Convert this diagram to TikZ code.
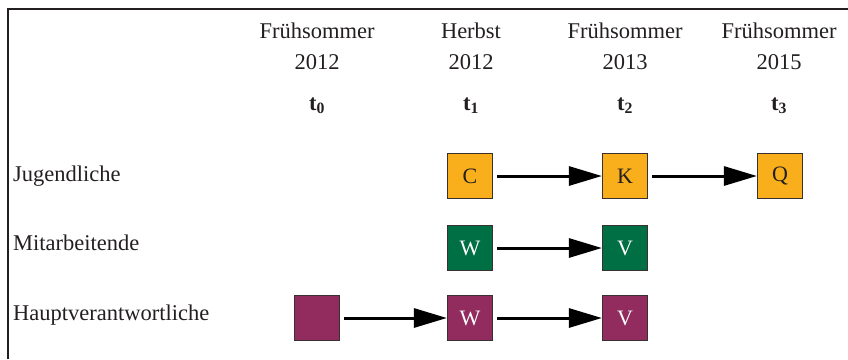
\documentclass[tikz,border=0pt]{standalone}
\usepackage{fontspec}
\setmainfont{Liberation Serif}
\usetikzlibrary{arrows.meta}
\definecolor{txt}{HTML}{231F20}
\definecolor{orng}{HTML}{F9AF1C}
\definecolor{grn}{HTML}{006F44}
\definecolor{purp}{HTML}{922B5E}
\definecolor{edge}{HTML}{3A3030}
\begin{document}
\begin{tikzpicture}[x=1pt,y=-1pt,
  hdr/.style={font=\fontsize{22.5}{26}\selectfont, text=txt, anchor=base},
  rowlbl/.style={font=\fontsize{22.5}{26}\selectfont, text=txt, anchor=base west, inner sep=0pt},
  box/.style={draw=edge, line width=1.2pt, minimum width=45pt, minimum height=45pt, inner sep=0pt, font=\fontsize{22}{26}\selectfont},
  ybox/.style={box, fill=orng, text=txt},
  gbox/.style={box, fill=grn, text=white},
  pbox/.style={box, fill=purp, text=white},
  flow/.style={line width=3pt, -{Triangle[length=33pt,width=19pt]}, shorten <=4pt}
]
\useasboundingbox (0,0) rectangle (848,359);
\draw[line width=1.5pt, txt] (8,359) -- (8,9) -- (848,9);

\node[hdr] (h0a) at (317,38) {Frühsommer};
\node[hdr] (h0b) at (317,69) {2012};
\node[hdr] (h0c) at (317,110) {\textbf{t\textsubscript{0}}};
\node[hdr] (h1a) at (471,38) {Herbst};
\node[hdr] (h1b) at (471,69) {2012};
\node[hdr] (h1c) at (471,110) {\textbf{t\textsubscript{1}}};
\node[hdr] (h2a) at (625,38) {Frühsommer};
\node[hdr] (h2b) at (625,69) {2013};
\node[hdr] (h2c) at (625,110) {\textbf{t\textsubscript{2}}};
\node[hdr] (h3a) at (779,38) {Frühsommer};
\node[hdr] (h3b) at (779,69) {2015};
\node[hdr] (h3c) at (779,110) {\textbf{t\textsubscript{3}}};

\node[rowlbl] (r1) at (13,181) {Jugendliche};
\node[rowlbl] (r2) at (13,250) {Mitarbeitende};
\node[rowlbl] (r3) at (13,320) {Hauptverantwortliche};

\node[ybox] (c) at (470,176) {C};
\node[ybox] (k) at (625,176) {K};
\node[ybox] (q) at (780,176) {Q};
\node[gbox] (gw) at (470,248) {W};
\node[gbox] (gv) at (625,248) {V};
\node[pbox] (p0) at (317,318) {};
\node[pbox] (pw) at (470,318) {W};
\node[pbox] (pv) at (625,318) {V};

\draw[flow] (c) -- (k);
\draw[flow] (k) -- (q);
\draw[flow] (gw) -- (gv);
\draw[flow] (p0) -- (pw);
\draw[flow] (pw) -- (pv);
\end{tikzpicture}
\end{document}
